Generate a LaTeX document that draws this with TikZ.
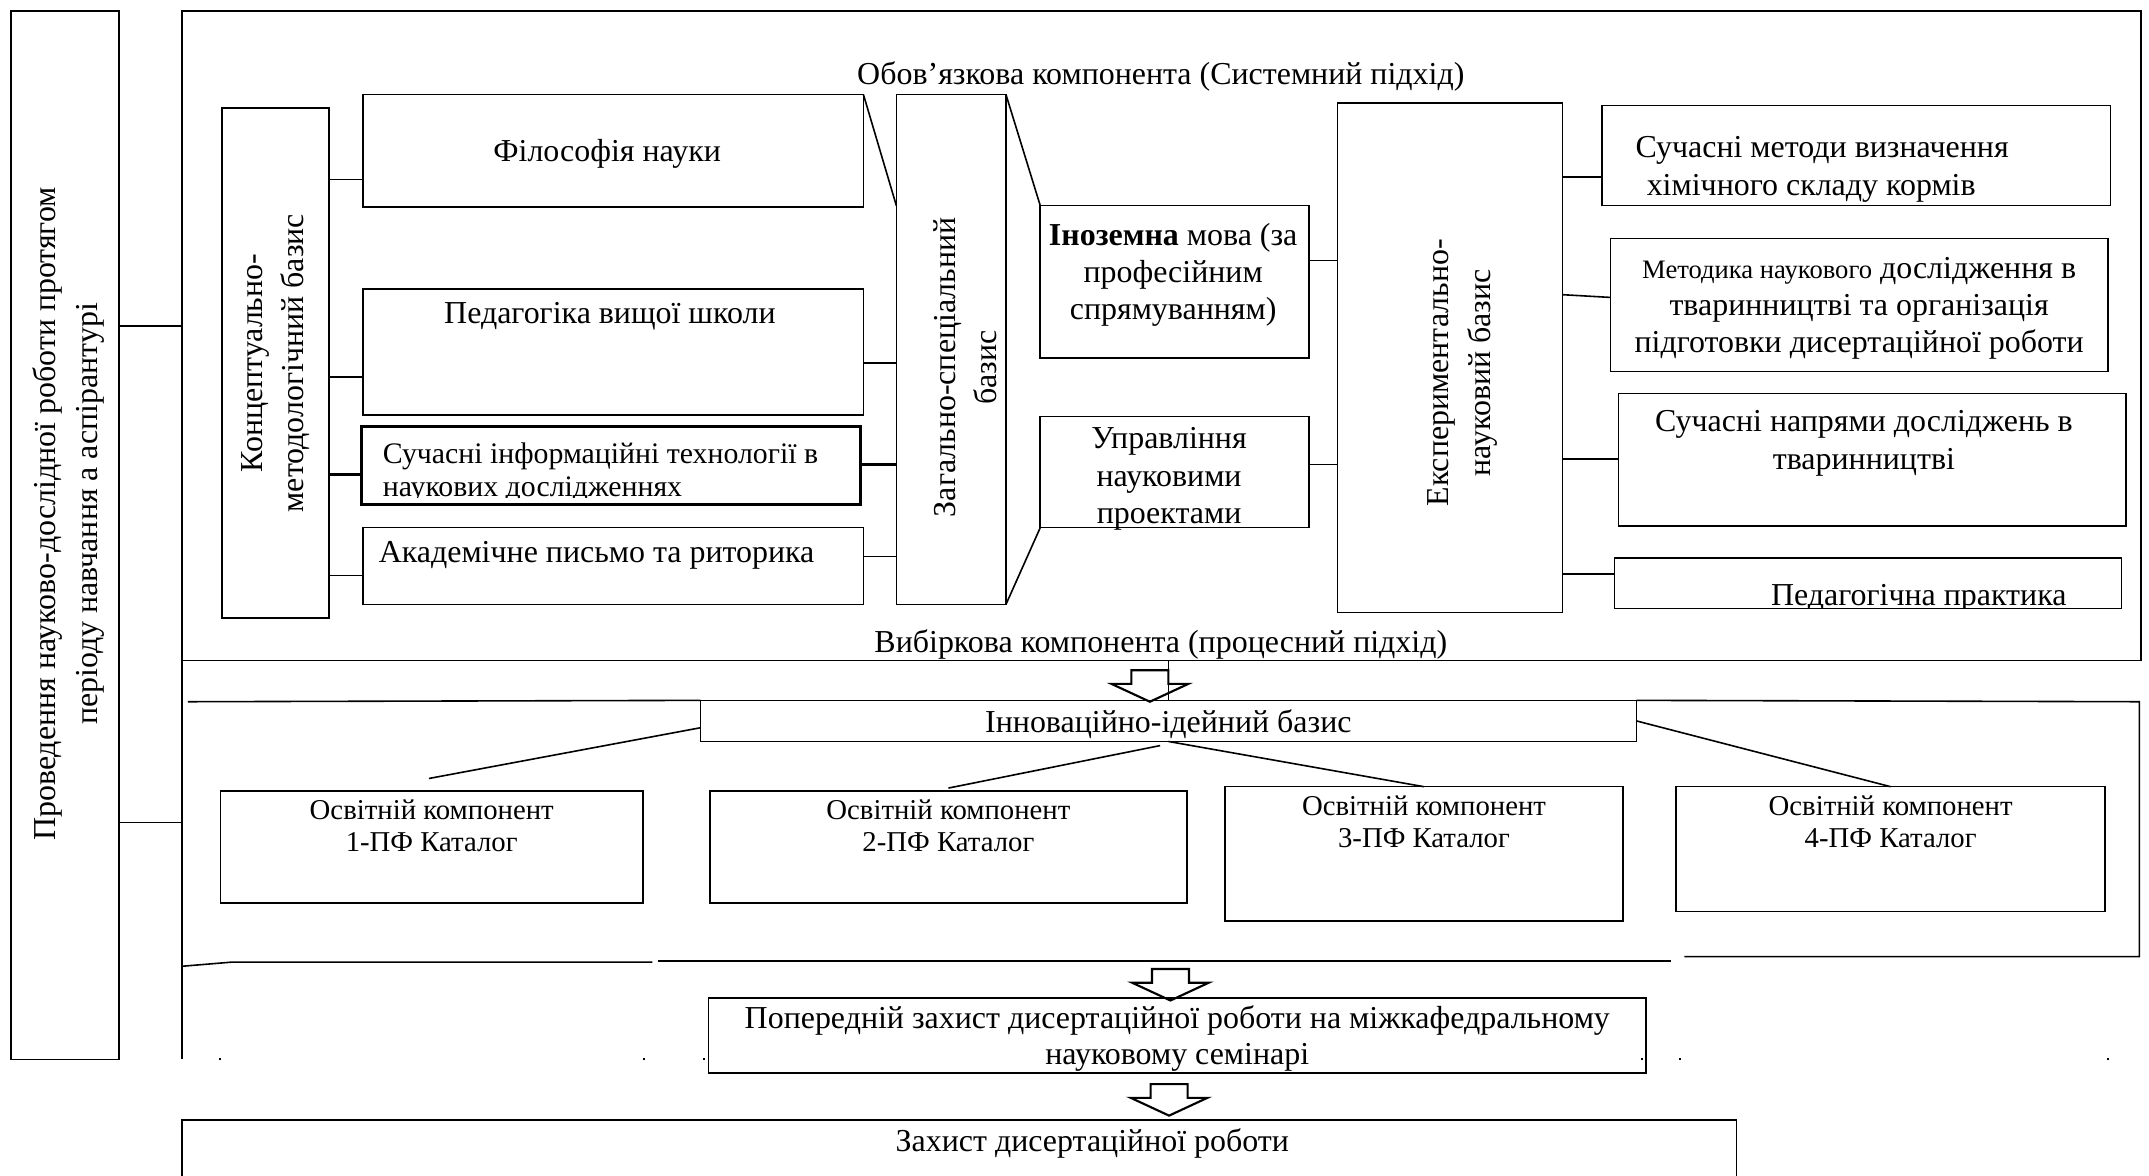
\documentclass[tikz,border=0pt]{standalone}
\usepackage{fontspec}
\setmainfont{Liberation Serif}
\usepackage{tikz}
\usetikzlibrary{calc}

\newcommand{\pxu}{0.0181cm}

\begin{document}
\begin{tikzpicture}[x=0.0181cm, y=-0.0181cm]
        \tikzset{box style/.style={draw, line width=0.6pt, rectangle, anchor=north west, outer sep=0pt, inner sep=0pt, text depth=0pt, align=center, font=\fontsize{12}{14}\selectfont}}
        \tikzset{line style/.style={line width=0.6pt}}
        \tikzset{text style/.style={inner sep=0pt, text depth=0pt, align=center, font=\fontsize{12}{14}\selectfont}}
        \tikzset{side style/.style={rotate=90, inner sep=0pt, align=center, font=\fontsize{12}{15.5}\selectfont}}
        \tikzset{pics/down block/.style={code={
            \draw[line width=0.8pt, fill=white] (-13.5,0) -- (13.5,0) -- (13.5,10) -- (28,10) -- (0,23) -- (-28,10) -- (-13.5,10) -- cycle;}}}

        \useasboundingbox (0,0) rectangle (1568,858);

        % left column
        \node[box style, minimum width=79*\pxu, minimum height=765*\pxu] (period) at (8,8) {};
        \node[side style] (periodtext) at (50,375) {Проведення науково-дослідної роботи протягом\\періоду навчання а аспірантурі};

        % compulsory component
        \node[box style, minimum width=1429*\pxu, minimum height=474*\pxu] (oblig) at (133,8) {};
        \coordinate (lowend) at (133,773);
        \draw[line style] (oblig.south west) -- (lowend);
        \draw[line style] (period.east |- 0,238) -- (oblig.west |- 0,238);
        \draw[line style] (period.east |- 0,600) -- (oblig.west |- 0,600);
        \node[text style] (obligtitle) at (847,53) {Обов’язкова компонента (Системний підхід)};
        \node[text style] (selecttitle) at (847,468) {Вибіркова компонента (процесний підхід)};

        % conceptual basis
        \node[box style, minimum width=78*\pxu, minimum height=372*\pxu] (konc) at (162,79) {};
        \node[side style] at (201,265) {Концептуально-\\методологічний базис};
        \node[box style, minimum width=365*\pxu, minimum height=82*\pxu] (phil) at (265,69) {};
        \node[text style] at (443,110) {Філософія науки};
        \node[box style, minimum width=365*\pxu, minimum height=92*\pxu] (ped) at (265,211) {};
        \node[text style] at (445,228) {Педагогіка вищої школи};
        \begin{scope}
            \clip (264,311) rectangle (628,363);
            \node[text style, anchor=base west, font=\fontsize{11.2}{12}\selectfont] at (279,338) {Сучасні інформаційні технології в};
            \node[text style, anchor=base west, font=\fontsize{11.2}{12}\selectfont] at (279,362) {наукових дослідженнях};
        \end{scope}
        \node[box style, line width=1.2pt, minimum width=364*\pxu, minimum height=57*\pxu] (infotech) at (264,311) {};
        \node[box style, minimum width=365*\pxu, minimum height=56*\pxu] (acad) at (265,385) {};
        \node[text style, anchor=west] at (276,403) {Академічне письмо та риторика};
        \draw[line style] (konc.east |- 0,131) -- (phil.west |- 0,131);
        \draw[line style] (konc.east |- 0,275) -- (ped.west |- 0,275);
        \draw[line width=1.2pt] (konc.east |- 0,346) -- (infotech.west |- 0,346);
        \draw[line style] (konc.east |- 0,420) -- (acad.west |- 0,420);

        % general basis
        \node[box style, minimum width=80*\pxu, minimum height=372*\pxu] (zag) at (654,69) {};
        \node[side style] at (704,268) {Загально-спеціальний\\базис};
        \draw[line style] (phil.north east) -- (zag.west |- 0,150);
        \draw[line style] (ped.east |- 0,265) -- (zag.west |- 0,265);
        \draw[line width=1.2pt] (infotech.east |- 0,339) -- (zag.west |- 0,339);
        \draw[line style] (acad.east |- 0,406) -- (zag.west |- 0,406);
        \node[box style, minimum width=196*\pxu, minimum height=111*\pxu] (lang) at (759,150) {};
        \node[text style] at (856,198) {\textbf{Іноземна} мова (за\\професійним\\спрямуванням)};
        \node[box style, minimum width=196*\pxu, minimum height=81*\pxu] (manage) at (759,304) {};
        \node[text style] at (853,347) {Управління\\науковими\\проектами};
        \draw[line style] (zag.north east) -- (lang.north west);
        \draw[line style] (zag.south east) -- (manage.south west);

        % experimental basis
        \node[box style, minimum width=164*\pxu, minimum height=372*\pxu] (exper) at (976,75) {};
        \node[side style] at (1067,272) {Експериментально-\\науковий базис};
        \draw[line style] (lang.east |- 0,190) -- (exper.west |- 0,190);
        \draw[line style] (manage.east |- 0,339) -- (exper.west |- 0,339);
        \node[box style, minimum width=371*\pxu, minimum height=73*\pxu] (chem) at (1169,77) {};
        \node[text style, anchor=west, align=left] at (1193,121) {Сучасні методи визначення\\\hspace*{0.35em}хімічного складу кормів};
        \node[box style, minimum width=363*\pxu, minimum height=97*\pxu] (method) at (1175,174) {{\fontsize{10}{14}\selectfont Методика наукового} дослідження в\\тваринництві та організація\\підготовки дисертаційної роботи};
        \node[box style, minimum width=370*\pxu, minimum height=97*\pxu] (trends) at (1181,287) {};
        \node[text style] at (1360,321) {Сучасні напрями досліджень в\\тваринництві};
        \begin{scope}
            \clip (1178,407) rectangle (1548,444);
            \node[text style, anchor=base] at (1400,442) {Педагогічна практика};
        \end{scope}
        \node[box style, minimum width=370*\pxu, minimum height=37*\pxu] (practice) at (1178,407) {};
        \draw[line style] (exper.east |- 0,129) -- (chem.west |- 0,129);
        \draw[line style] (exper.east |- 0,215) -- (method.west |- 0,217);
        \draw[line style] (exper.east |- 0,335) -- (trends.west |- 0,335);
        \draw[line style] (exper.east |- 0,419) -- (practice.west |- 0,419);

        % selective component
        \pic at (839,489) {down block};
        \node[box style, minimum width=683*\pxu, minimum height=30*\pxu] (innov) at (511,511) {Інноваційно-ідейний базис};
        \draw[line style] (oblig.south -| innov.north) -- (innov.north);
        \draw[line style] (137,512) -- (innov.north west);
        \draw[line style] (innov.north east) -- (1561,512) -- (1561,698) -- (1229,698);
        \draw[line style] (133,705) -- (169,702) -- (476,702);
        \draw[line style] (480,701) -- (1219,701);
        \tikzset{comp style/.style={box style, font=\fontsize{10.8}{12.3}\selectfont}}
        \node[comp style, minimum width=308*\pxu, minimum height=82*\pxu] (comp1) at (161,577) {};
        \node[comp style, minimum width=348*\pxu, minimum height=82*\pxu] (comp2) at (518,577) {};
        \node[comp style, minimum width=290*\pxu, minimum height=98*\pxu] (comp3) at (894,574) {};
        \node[comp style, minimum width=313*\pxu, minimum height=91*\pxu] (comp4) at (1223,574) {};
        \foreach \c/\n in {comp1/1,comp2/2,comp3/3,comp4/4}
            \node[text style, anchor=north, font=\fontsize{10.8}{12.3}\selectfont] at ($(\c.north)+(0,6)$) {Освітній компонент\\\n-ПФ Каталог};
        \draw[line style] (innov.west |- 0,531) -- ($(comp1.north)+(-2,-9)$);
        \draw[line style] ($(innov.south)+(-6,3)$) -- ($(comp2.north)+(0,-2)$);
        \draw[line style] (innov.south) -- (comp3.north);
        \draw[line style] (innov.east) -- (comp4.north);

        % defence
        \pic at (854,707) {down block};
        \node[box style, font=\fontsize{12}{13.5}\selectfont, minimum width=684*\pxu, minimum height=55*\pxu] (prelim) at (517,728) {Попередній захист дисертаційної роботи на міжкафедральному\\науковому семінарі};
        \pic at (853,791) {down block};
        \node[box style, minimum width=1134*\pxu, minimum height=60*\pxu] (defence) at (133,817) {};
        \node[text style] at (797,832) {Захист дисертаційної роботи};
        \foreach \dx in {160,469,513,1197,1225,1537}
            \fill (\dx,772) rectangle ++(1.5,1.5);
\end{tikzpicture}
\end{document}
